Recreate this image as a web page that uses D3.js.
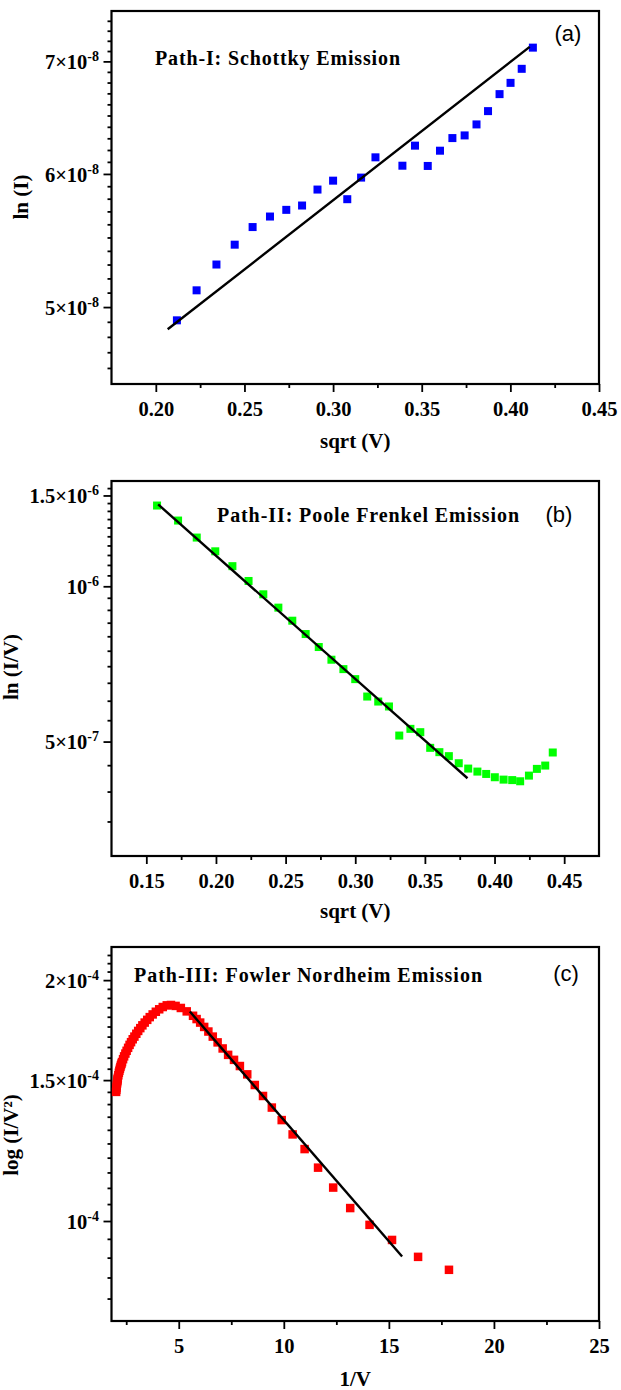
<!DOCTYPE html>
<html><head><meta charset="utf-8">
<script src="https://cdn.jsdelivr.net/npm/d3@7"></script>
<style>body{margin:0;background:#fff}svg{display:block}</style>
</head><body><svg id="c" width="621" height="1390"></svg>
<script>
// ---------- Panel (a): Schottky ----------
const aX = [0.2119,0.2230,0.2342,0.2445,0.2546,0.2644,0.2736,0.2825,0.2912,0.3000,0.3080,0.3158,0.3239,0.3391,0.3462,0.3534,0.3603,0.3673,0.3742,0.3809,0.3874,0.3939,0.4001,0.4064,0.4127];
const aY = [4.91e-8,5.116e-8,5.30e-8,5.446e-8,5.579e-8,5.66e-8,5.712e-8,5.746e-8,5.873e-8,5.945e-8,5.796e-8,5.970e-8,6.138e-8,6.068e-8,6.237e-8,6.066e-8,6.194e-8,6.302e-8,6.325e-8,6.421e-8,6.539e-8,6.693e-8,6.797e-8,6.929e-8,7.133e-8];
const aFitX = [0.2067, 0.4109];
const aFitY = [4.85e-8, 7.14e-8];
const aXTicks = [0.20,0.25,0.30,0.35,0.40,0.45];
const aXTickLabels = ["0.20","0.25","0.30","0.35","0.40","0.45"];
const aYTicks = [5e-8,6e-8,7e-8];
const aYTickLabels = ["5×10^-8","6×10^-8","7×10^-8"];

// ---------- Panel (b): Poole Frenkel ----------
const bX = [0.1577,0.1728,0.1862,0.1995,0.2118,0.2234,0.2340,0.2448,0.2548,0.2644,0.2738,0.2829,0.2915,0.3000,0.3086,0.3165,0.3242,0.3316,0.3396,0.3467,0.3538,0.3604,0.3672,0.3743,0.3811,0.3877,0.3940,0.4002,0.4065,0.4127,0.4184,0.4247,0.4304,0.4364,0.4418];
const bY = [14.34e-7,13.41e-7,12.43e-7,11.69e-7,10.94e-7,10.24e-7,9.649e-7,9.091e-7,8.576e-7,8.080e-7,7.625e-7,7.205e-7,6.909e-7,6.607e-7,6.113e-7,5.978e-7,5.848e-7,5.136e-7,5.292e-7,5.214e-7,4.862e-7,4.769e-7,4.685e-7,4.539e-7,4.432e-7,4.373e-7,4.327e-7,4.264e-7,4.219e-7,4.210e-7,4.188e-7,4.295e-7,4.426e-7,4.492e-7,4.762e-7];
const bFitX = [0.1585, 0.3806];
const bFitY = [1.441e-6, 0.4245e-6];
const bXTicks = [0.15,0.20,0.25,0.30,0.35,0.40,0.45];
const bXTickLabels = ["0.15","0.20","0.25","0.30","0.35","0.40","0.45"];
const bYTicks = [5e-7,1e-6,1.5e-6];
const bYTickLabels = ["5×10^-7","10^-6","1.5×10^-6"];

// ---------- Panel (c): Fowler Nordheim ----------
const cX = [2.02,2.03,2.04,2.05,2.06,2.07,2.08,2.09,2.10,2.125,2.15,2.175,2.20,2.225,2.25,2.275,2.30,2.35,2.40,2.46,2.52,2.59,2.66,2.73,2.81,2.89,2.98,3.07,3.17,3.27,3.38,3.50,3.62,3.76,3.91,4.07,4.24,4.43,4.63,4.85,5.10,5.38,5.68,5.85,6.02,6.21,6.41,6.62,6.85,7.09,7.35,7.63,7.91,8.26,8.62,9.01,9.43,9.90,10.42,10.99,11.63,12.35,13.16,14.08,15.15,16.39,17.86];
const cY = [1.45e-4,1.459e-4,1.468e-4,1.476e-4,1.484e-4,1.491e-4,1.498e-4,1.504e-4,1.51e-4,1.521e-4,1.532e-4,1.541e-4,1.55e-4,1.558e-4,1.566e-4,1.573e-4,1.58e-4,1.593e-4,1.606e-4,1.619e-4,1.632e-4,1.646e-4,1.66e-4,1.673e-4,1.687e-4,1.70e-4,1.714e-4,1.728e-4,1.742e-4,1.756e-4,1.77e-4,1.784e-4,1.798e-4,1.812e-4,1.826e-4,1.839e-4,1.851e-4,1.86e-4,1.862e-4,1.857e-4,1.846e-4,1.828e-4,1.805e-4,1.788e-4,1.77e-4,1.748e-4,1.725e-4,1.70e-4,1.672e-4,1.643e-4,1.613e-4,1.59e-4,1.562e-4,1.525e-4,1.479e-4,1.433e-4,1.386e-4,1.337e-4,1.283e-4,1.230e-4,1.166e-4,1.101e-4,1.038e-4,0.989e-4,0.947e-4,0.902e-4,0.869e-4];
const cFitX = [5.53, 15.63];
const cFitY = [1.827e-4, 0.903e-4];
const cXTicks = [5,10,15,20,25];
const cXTickLabels = ["5","10","15","20","25"];
const cYTicks = [1e-4,1.5e-4,2e-4];
const cYTickLabels = ["10^-4","1.5×10^-4","2×10^-4"];

const SERIF = "'Liberation Serif','Times New Roman',Times,serif";
const SANS = "'Liberation Sans',Arial,Helvetica,sans-serif";
const svg = d3.select("#c");

const panels = [
  {xs:aX, ys:aY, fx:aFitX, fy:aFitY, xt:aXTicks, xl:aXTickLabels, yt:aYTicks, yl:aYTickLabels,
   xDomain:[0.175,0.45], yDomain:[4.5e-8,7.5e-8], xMinorStep:0.05, yMinorStep:1e-9,
   top:11, bottom:384, color:"#0000ff", size:8,
   title:"Path-I: Schottky  Emission", titleX:155, titleY:65, titleW:245,
   tag:"(a)", tagX:568, tagY:41,
   xTitle:"sqrt (V)", xTitleY:448, yTitle:"ln (I)", yTitleX:28, yTitleY:197},
  {xs:bX, ys:bY, fx:bFitX, fy:bFitY, xt:bXTicks, xl:bXTickLabels, yt:bYTicks, yl:bYTickLabels,
   xDomain:[0.125,0.475], yDomain:[3e-7,1.6e-6], xMinorStep:0.05, yMinorStep:5e-8,
   top:481, bottom:856, color:"#00ff00", size:8,
   title:"Path-II: Poole Frenkel Emission", titleX:217, titleY:522, titleW:302,
   tag:"(b)", tagX:559, tagY:522,
   xTitle:"sqrt (V)", xTitleY:918, yTitle:"ln (I/V)", yTitleX:18, yTitleY:667},
  {xs:cX, ys:cY, fx:cFitX, fy:cFitY, xt:cXTicks, xl:cXTickLabels, yt:cYTicks, yl:cYTickLabels,
   xDomain:[1.8,25], yDomain:[7.5e-5,2.2e-4], xMinorStep:5, yMinorStep:5e-6,
   top:947, bottom:1321, color:"#ff0000", size:8.5,
   title:"Path-III: Fowler Nordheim Emission", titleX:134, titleY:982, titleW:348,
   tag:"(c)", tagX:566, tagY:981,
   xTitle:"1/V", xTitleY:1386, yTitle:"log (I/V²)", yTitleX:18, yTitleY:1135}
];

const L = 111.5, R = 599;

function minorVals(domain, step, majors) {
  const out = [];
  const n = Math.round((domain[1]-domain[0])/step) + 2;
  const start = Math.ceil((domain[0]-1e-12)/step)*step;
  for (let i = 0; i < n; i++) {
    const v = +(start + i*step).toPrecision(10);
    if (v > domain[0] + 1e-12 && v < domain[1] - 1e-12 && !majors.some(m => Math.abs(m - v) < step*1e-3)) out.push(v);
  }
  return out;
}

panels.forEach(p => {
  const g = svg.append("g");
  const x = d3.scaleLinear().domain(p.xDomain).range([L, R]);
  const y = d3.scaleLog().domain(p.yDomain).range([p.bottom, p.top]);

  const xMinor = p.xt.slice(0,-1).map((v,i)=> (v + p.xt[i+1])/2)
    .concat([p.xt[0] - p.xMinorStep/2]).filter(v => v > p.xDomain[0]+1e-9);
  g.append("g").attr("transform",`translate(0,${p.bottom})`)
    .call(d3.axisBottom(x).tickValues(xMinor).tickSize(4).tickSizeOuter(0).tickFormat(""));
  const xa = g.append("g").attr("transform",`translate(0,${p.bottom})`)
    .call(d3.axisBottom(x).tickValues(p.xt).tickSize(8).tickSizeOuter(0).tickPadding(9)
      .tickFormat((d,i)=>p.xl[i]));
  xa.selectAll("text").attr("font-family",SERIF).attr("font-weight","bold").attr("font-size",20.5).attr("fill","#000");

  const yMinor = minorVals(p.yDomain, p.yMinorStep, p.yt);
  g.append("g").attr("transform",`translate(${L},0)`)
    .call(d3.axisLeft(y).tickValues(yMinor).tickSize(4).tickSizeOuter(0).tickFormat(""));
  const ya = g.append("g").attr("transform",`translate(${L},0)`)
    .call(d3.axisLeft(y).tickValues(p.yt).tickSize(8).tickSizeOuter(0).tickPadding(4.5).tickFormat(""));
  ya.selectAll(".tick text").each(function(d,i){
    const t = d3.select(this);
    const parts = p.yl[i].split("^");
    t.text(null).attr("font-family",SERIF).attr("font-weight","bold").attr("font-size",20.5)
      .attr("fill","#000").attr("dy","0.35em");
    t.append("tspan").text(parts[0]);
    t.append("tspan").attr("font-size",14).attr("dy",-8).text(parts[1]);
  });
  g.selectAll(".domain").remove();
  g.selectAll(".tick line").attr("stroke","#000").attr("stroke-width",1.8);

  g.append("rect").attr("x",L).attr("y",p.top).attr("width",R-L).attr("height",p.bottom-p.top)
    .attr("fill","none").attr("stroke","#000").attr("stroke-width",2.2);

  const s = p.size;
  g.append("g").selectAll("rect").data(p.xs.map((v,i)=>[v,p.ys[i]])).join("rect")
    .attr("x",d=>x(d[0])-s/2).attr("y",d=>y(d[1])-s/2).attr("width",s).attr("height",s)
    .attr("fill",p.color);

  g.append("path").datum(p.fx.map((v,i)=>[v,p.fy[i]]))
    .attr("d", d3.line().x(d=>x(d[0])).y(d=>y(d[1])))
    .attr("stroke","#000").attr("stroke-width",2.4).attr("fill","none");

  g.append("text").attr("x",p.titleX).attr("y",p.titleY).attr("font-family",SERIF)
    .attr("font-weight","bold").attr("font-size",20).attr("textLength",p.titleW)
    .attr("lengthAdjust","spacing").text(p.title);
  g.append("text").attr("x",p.tagX).attr("y",p.tagY).attr("text-anchor","middle")
    .attr("font-family",SANS).attr("font-size",22).text(p.tag);
  g.append("text").attr("x",(L+R)/2).attr("y",p.xTitleY).attr("text-anchor","middle")
    .attr("font-family",SERIF).attr("font-weight","bold").attr("font-size",21).text(p.xTitle);
  g.append("text").attr("transform",`translate(${p.yTitleX},${p.yTitleY}) rotate(-90)`)
    .attr("text-anchor","middle").attr("font-family",SERIF).attr("font-weight","bold")
    .attr("font-size",21).text(p.yTitle);
});
</script>
</body></html>
